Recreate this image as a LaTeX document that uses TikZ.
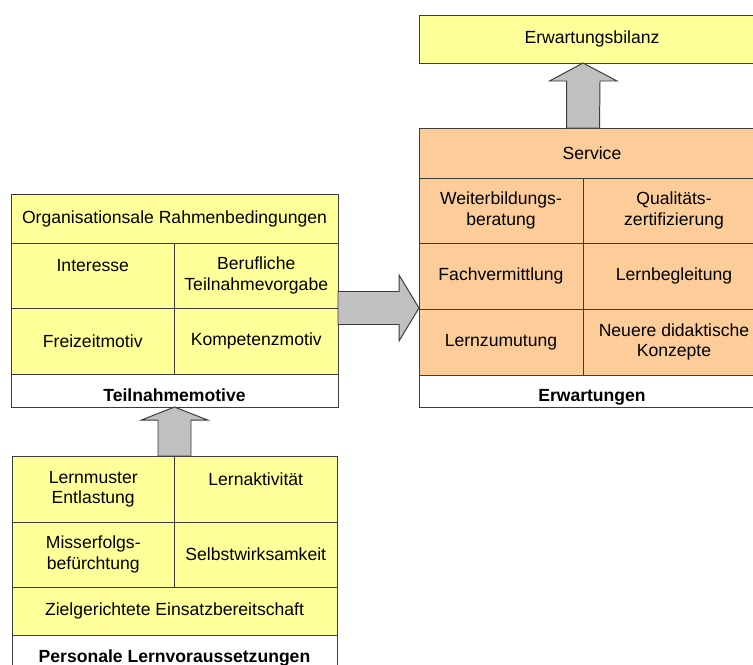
\documentclass[tikz,border=0pt]{standalone}
\usepackage{fontspec}
\setmainfont{Liberation Sans}
\usetikzlibrary{positioning, calc}

\definecolor{boxyellow}{RGB}{255,255,153}
\definecolor{boxorange}{RGB}{252,204,153}
\definecolor{arrowgray}{RGB}{192,192,192}
\definecolor{linegray}{RGB}{60,60,60}

\tikzset{
	cell/.style={draw=linegray, line width=0.7pt, inner sep=0pt, outer sep=0pt, align=center, font=\fontsize{12.5}{14.5}\selectfont},
	ycell/.style={cell, fill=boxyellow},
	ocell/.style={cell, fill=boxorange},
	wcell/.style={cell, fill=white},
	caption/.style={font=\bfseries\fontsize{12.5}{14.5}\selectfont, anchor=base},
	fatarrow/.style={draw=linegray, fill=arrowgray, line width=0.7pt, line join=miter}
}

\begin{document}
\begin{tikzpicture}[x=0.025cm, y=-0.025cm]
		% --- Frame ---
		\def\u{0.025cm}
		\useasboundingbox (0,0) rectangle (753,664);
		\clip (0,0) rectangle (753,664);
		\fill[white] (0,0) rectangle (753,664);
		
		% --- Teilnahmemotive (left) ---
		\node[ycell, minimum width=327*\u, minimum height=49*\u, anchor=north west] (org) at (11,194) {Organisationsale Rahmenbedingungen};
		\node[ycell, minimum width=163.5*\u, minimum height=65*\u, below right=0pt of org.south west] (inter) {Interesse\\\mbox{}};
		\node[ycell, minimum width=163.5*\u, minimum height=65*\u, right=0pt of inter] (beruf) {Berufliche\\Teilnahmevorgabe};
		\node[ycell, minimum width=163.5*\u, minimum height=66*\u, below=0pt of inter] (frei) {Freizeitmotiv};
		\node[ycell, minimum width=163.5*\u, minimum height=66*\u, right=0pt of frei] (kompet) {Kompetenzmotiv};
		\node[wcell, minimum width=327*\u, minimum height=33*\u, below right=0pt of frei.south west,
			label={[caption, yshift=4pt]south:Teilnahmemotive}] (teil) {};
		
		% --- Erwartungsbilanz (top right) ---
		\node[ycell, minimum width=346*\u, minimum height=48*\u, anchor=north west] (bilanz) at (419,15) {Erwartungsbilanz};
		
		% --- Erwartungen (right) ---
		\node[ocell, minimum width=346*\u, minimum height=50*\u, anchor=north west] (serv) at (419,128) {Service};
		\node[ocell, minimum width=164*\u, minimum height=65*\u, below right=0pt of serv.south west] (weiter) {Weiterbildungs-\\beratung};
		\node[ocell, minimum width=182*\u, minimum height=65*\u, right=0pt of weiter] (quali) {Qualitäts-\\zertifizierung};
		\node[ocell, minimum width=164*\u, minimum height=66*\u, below=0pt of weiter] (fach) {Fachvermittlung};
		\node[ocell, minimum width=182*\u, minimum height=66*\u, right=0pt of fach] (lbegl) {Lernbegleitung};
		\node[ocell, minimum width=164*\u, minimum height=66*\u, below=0pt of fach] (zumut) {Lernzumutung};
		\node[ocell, minimum width=182*\u, minimum height=66*\u, right=0pt of zumut] (neuere) {Neuere didaktische\\Konzepte};
		\node[wcell, minimum width=346*\u, minimum height=32*\u, below right=0pt of zumut.south west,
			label={[caption, yshift=4pt]south:Erwartungen}] (erw) {};
		
		% --- Personale Lernvoraussetzungen (bottom left) ---
		\node[ycell, minimum width=162.5*\u, minimum height=66*\u, anchor=north west] (lmuster) at (12,456) {Lernmuster\\Entlastung};
		\node[ycell, minimum width=162.5*\u, minimum height=66*\u, right=0pt of lmuster] (lakt) {Lernaktivität\\\mbox{}};
		\node[ycell, minimum width=162.5*\u, minimum height=65*\u, below=0pt of lmuster] (misserf) {Misserfolgs-\\befürchtung};
		\node[ycell, minimum width=162.5*\u, minimum height=65*\u, right=0pt of misserf] (selbst) {Selbstwirksamkeit};
		\node[ycell, minimum width=325*\u, minimum height=48*\u, below right=0pt of misserf.south west] (ziel) {Zielgerichtete Einsatzbereitschaft};
		\node[wcell, minimum width=325*\u, minimum height=45*\u, below right=0pt of ziel.south west,
			label={[caption, yshift=12.5pt]south:Personale Lernvoraussetzungen}] (pers) {};
		
		% --- Block arrows ---
		% Teilnahmemotive -> Erwartungen
		\coordinate (rtip) at (fach.south west |- beruf.south east);
		\draw[fatarrow] ($(beruf.south east)+(0,-16.5)$) -- ($(rtip)+(-20,-16.5)$) -- ++(0,-16.5)
			-- (rtip) -- ++(-20,33) -- ++(0,-16.5) -- ($(beruf.south east)+(0,16.5)$) -- cycle;
		
		% Erwartungen -> Erwartungsbilanz
		\coordinate (servtop) at (serv.north west -| weiter.east);
		\coordinate (biltip) at (bilanz.south -| weiter.east);
		\draw[fatarrow] ($(servtop)+(-16.5,0)$) -- ++(0,-47) -- ++(-17,0) -- (biltip)
			-- ++(34,18) -- ++(-17,0) -- ($(servtop)+(16.5,0)$) -- cycle;
		
		% Personale Lernvoraussetzungen -> Teilnahmemotive
		\draw[fatarrow] ($(lmuster.north east)+(-16.5,0)$) -- ++(0,-36) -- ++(-16.5,0) -- (teil.south)
			-- ++(33,13) -- ++(-16.5,0) -- ($(lmuster.north east)+(16.5,0)$) -- cycle;
		
	\end{tikzpicture}
\end{document}
